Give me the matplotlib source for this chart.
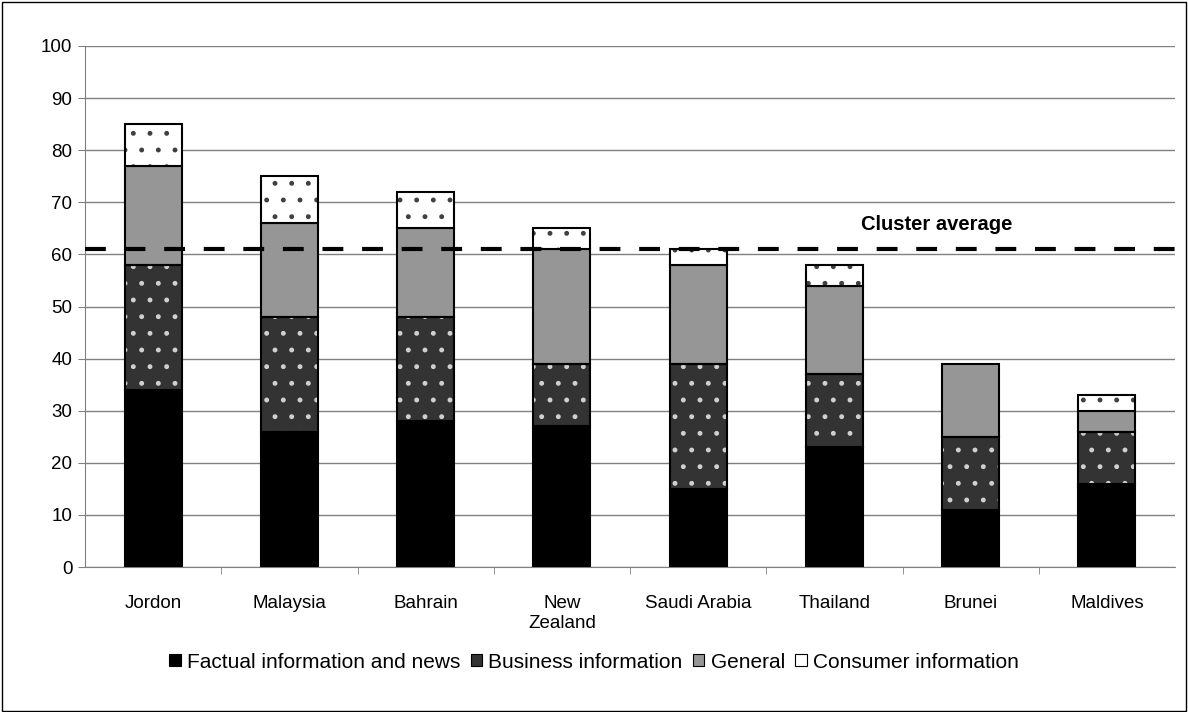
import matplotlib.pyplot as plt
import numpy as np
from matplotlib.patches import Rectangle

plt.rcParams['font.family'] = ['Liberation Sans', 'DejaVu Sans']
plt.rcParams['hatch.linewidth'] = 1.1

### Data
countries = ['Jordon', 'Malaysia', 'Bahrain', 'New\nZealand', 'Saudi Arabia',
             'Thailand', 'Brunei', 'Maldives']
factual = [34, 26, 28, 27, 15, 23, 11, 16]
business = [24, 22, 20, 12, 24, 14, 14, 10]
general = [19, 18, 17, 22, 19, 17, 14, 4]
consumer = [8, 9, 7, 4, 3, 4, 0, 3]
cluster_avg = 61

series_names = ['Factual information and news', 'Business information',
                'General', 'Consumer information']

fig = plt.figure(figsize=(11.88, 7.12), dpi=100)
ax = fig.add_axes([85/1188, 1 - 567/712, 1090/1188, 521/712])

x = np.arange(len(countries))
w = 0.42
bottom = np.zeros(len(countries))

# (face, hatch, dot colour)
styles = [('#000000', None, None),
          ('#333333', '.', '#d0d0d0'),
          ('#969696', None, None),
          ('#ffffff', '.', '#404040')]

handles = []
for vals, (fc, hatch, hc) in zip([factual, business, general, consumer], styles):
    vals = np.array(vals, dtype=float)
    mask = vals > 0
    if hatch:
        # hatch layer drawn with the dot colour as edge, then outline on top
        ax.bar(x[mask], vals[mask], w, bottom=bottom[mask], color=fc,
               edgecolor=hc, hatch=hatch, linewidth=0, zorder=3)
        ax.bar(x[mask], vals[mask], w, bottom=bottom[mask], fill=False,
               edgecolor='black', linewidth=1.5, zorder=4)
    else:
        ax.bar(x[mask], vals[mask], w, bottom=bottom[mask], color=fc,
               edgecolor='black', linewidth=1.5, zorder=3)
    bottom += vals
    handles.append(Rectangle((0, 0), 1, 1, facecolor=fc, edgecolor='black', linewidth=0.8))

ax.axhline(cluster_avg, color='black', linestyle=(0, (5, 4.5)), linewidth=3, zorder=5)
ax.text(5.75, 65.8, 'Cluster average', fontsize=14.5, fontweight='bold',
        ha='center', va='center')

ax.set_xlim(-0.5, len(countries) - 0.5)
ax.set_ylim(0, 100)
ax.set_yticks(range(0, 101, 10))
ax.yaxis.grid(True, color='#808080', linewidth=1)
ax.set_axisbelow(True)
ax.set_xticks(x)
ax.set_xticklabels(countries, fontsize=13.5, linespacing=1.25)
ax.set_xticks(np.arange(0.5, len(countries) - 0.5, 1), minor=True)
ax.tick_params(axis='x', which='major', length=0, pad=20)
ax.tick_params(axis='x', which='minor', length=5, direction='out', color='#808080')
ax.tick_params(axis='y', labelsize=13.5, length=5, color='#808080', pad=4)
for s in ['top', 'right']:
    ax.spines[s].set_visible(False)
ax.spines['left'].set_color('#808080')
ax.spines['bottom'].set_color('#808080')

fig.legend(handles, series_names, loc='center', bbox_to_anchor=(0.5, 1 - 662/712),
           ncol=4, frameon=False, fontsize=15, handlelength=0.55, handleheight=0.55,
           handletextpad=0.3, columnspacing=0.5)

fig.patches.append(Rectangle((0.002, 0.002), 0.996, 0.995, transform=fig.transFigure,
                             fill=False, edgecolor='black', linewidth=1))

fig.savefig('out.png', dpi=100)
